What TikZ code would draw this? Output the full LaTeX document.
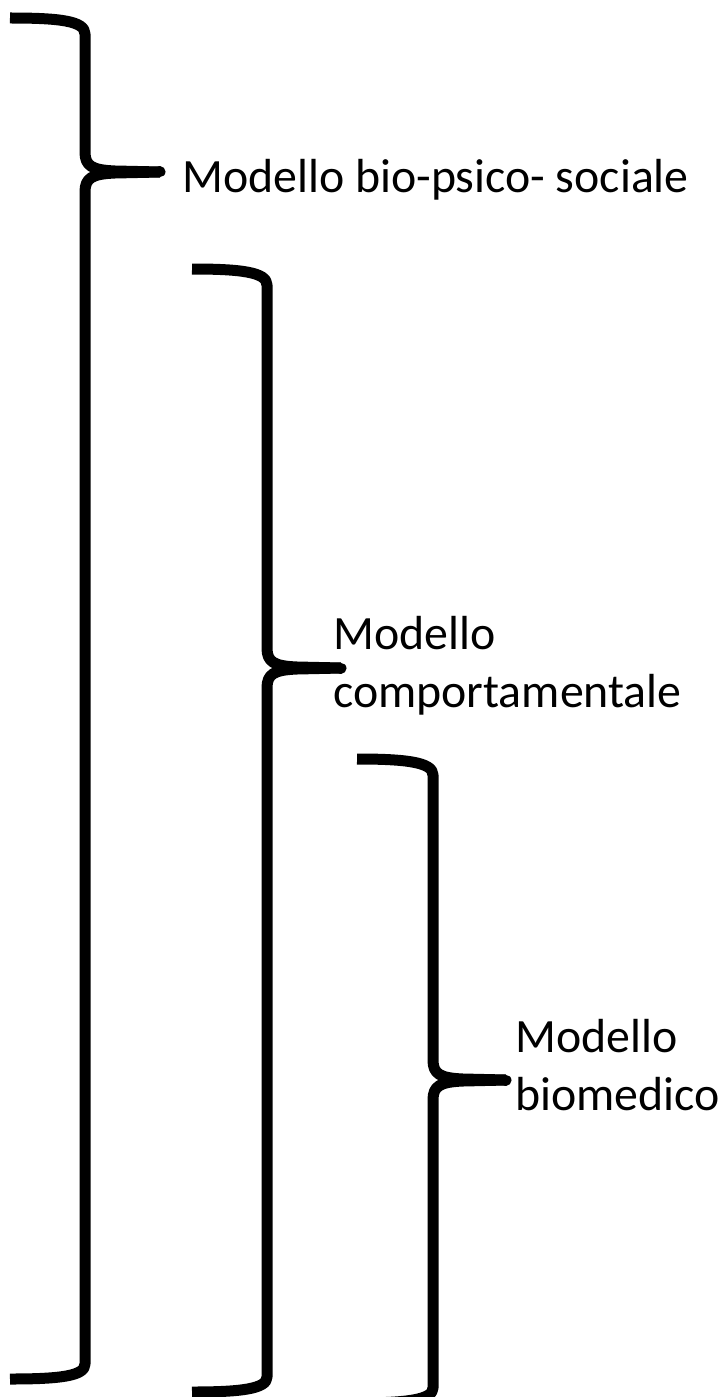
\documentclass[tikz,border=0pt]{standalone}
\usepackage{fontspec}
\setmainfont{Carlito}
\begin{document}
\begin{tikzpicture}[x=1bp,y=-1bp,
  bracepath/.style={line width=11bp,line cap=butt,line join=round,black},
  bracetip/.style={line width=11bp,line cap=round,black},
  label/.style={inner sep=0pt,anchor=base west,align=left,font=\fontsize{48}{58}\selectfont}]
\useasboundingbox (0,0) rectangle (718,1397);
\clip (0,0) rectangle (718,1397);
% brace 1
\coordinate (t1) at (160,172);
\draw[bracepath] (10,18) .. controls (60,18) and (85,21) .. (85,34) -- (85,152)
  .. controls (85,166) and (92,170) .. (115,171) -- (t1);
\draw[bracepath] (t1) -- (115,173) .. controls (92,174) and (85,178) .. (85,192)
  -- (85,1364) .. controls (85,1376) and (60,1379) .. (10,1379);
\draw[bracetip] (t1) -- +(-0.5,0);
% brace 2
\coordinate (t2) at (341,668);
\draw[bracepath] (192,269) .. controls (240,269) and (267,272) .. (267,285) -- (267,648)
  .. controls (267,662) and (274,666) .. (297,667) -- (t2);
\draw[bracepath] (t2) -- (297,669) .. controls (274,670) and (267,674) .. (267,688)
  -- (267,1377) .. controls (267,1389) and (240,1392) .. (192,1392);
\draw[bracetip] (t2) -- +(-0.5,0);
% brace 3
\coordinate (t3) at (506,1080);
\draw[bracepath] (357,759) .. controls (405,759) and (433,762) .. (433,775) -- (433,1060)
  .. controls (433,1074) and (440,1078) .. (463,1079) -- (t3);
\draw[bracepath] (t3) -- (463,1081) .. controls (440,1082) and (433,1086) .. (433,1100)
  -- (433,1388) .. controls (433,1400) and (405,1403) .. (357,1403);
\draw[bracetip] (t3) -- +(-0.5,0);
% labels
\node[label] (l1) at (182,193) {Modello bio-psico- sociale};
\node[label] (l2) at (333,707) {Modello\\comportamentale};
\node[label] (l3) at (515,1110) {Modello\\biomedico};
\end{tikzpicture}
\end{document}
